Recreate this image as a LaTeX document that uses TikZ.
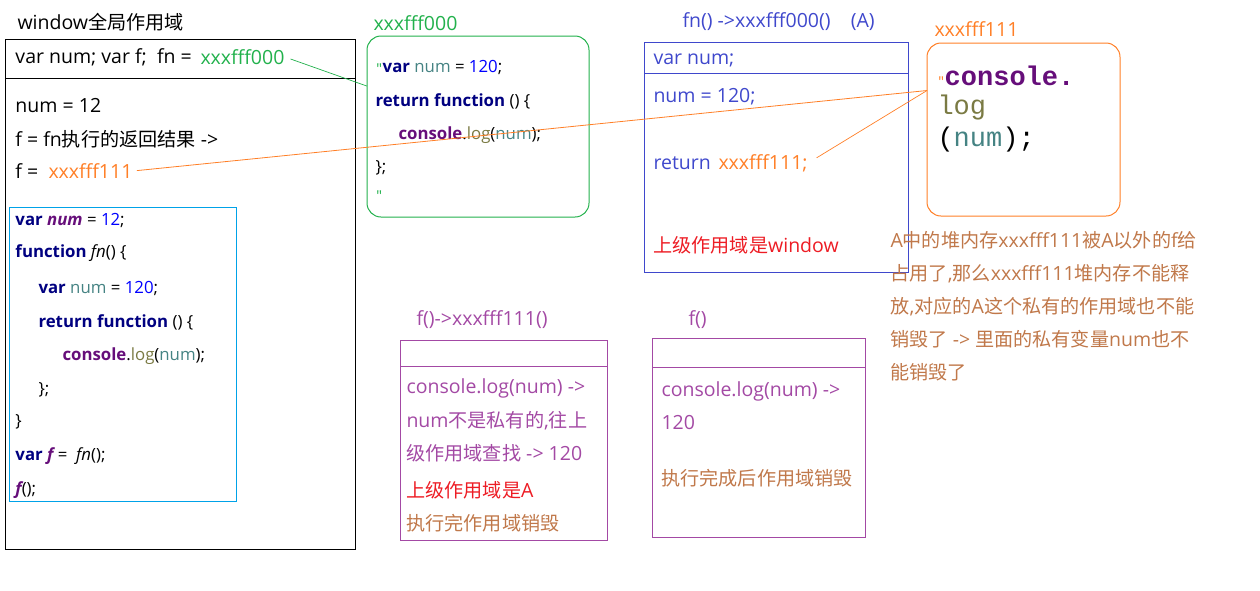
\documentclass[tikz,border=0pt]{standalone}
\usepackage{fontspec}
\setmainfont{Open Sans}
\newfontfamily\cjk{Noto Sans CJK SC}[Scale=0.98]
\newfontfamily\monofnt{Liberation Mono}
\definecolor{gline}{HTML}{22B14C}
\definecolor{oline}{HTML}{FF7F27}
\definecolor{bline}{HTML}{3F48CC}
\definecolor{pline}{HTML}{A349A4}
\definecolor{cline}{HTML}{00A2E8}
\definecolor{redt}{HTML}{ED1C24}
\definecolor{brownt}{HTML}{C0784A}
\definecolor{kw}{HTML}{000080}
\definecolor{pv}{HTML}{660E7A}
\definecolor{numc}{HTML}{0000FF}
\definecolor{lv}{HTML}{458383}
\definecolor{lg}{HTML}{7A7A43}
\newcommand{\kw}[1]{\textbf{\color{kw}#1}}
\newcommand{\zh}[1]{{\cjk #1}}
\newcommand{\qmark}{{\monofnt\fontsize{12}{12}\selectfont"}}
\begin{document}
\begin{tikzpicture}[x=1pt,y=-1pt,line width=1pt,
    txt/.style={anchor=west,inner sep=0pt,font=\fontsize{19.5}{22}\selectfont},
    code/.style={txt,font=\fontsize{16.8}{20}\selectfont},
    mono/.style={txt,font=\monofnt\fontsize{27}{30}\selectfont},
    frame/.style={draw,anchor=north west,inner sep=0pt,outer sep=0pt}]
    \useasboundingbox (0,0) rectangle (1260,590);
    % window scope
    \node[txt] (wtitle) at (17,22) {window\zh{全局作用域}};
    \node[frame,minimum width=350,minimum height=510] (wbox) at (5,39) {};
    \draw (5,78)--(355,78);
    \node[txt] (wvar) at (15,57) {var num; var f;\ \ fn =};
    \node[txt,text=gline] (wfn) at (200,57) {xxxfff000};
    \node[txt] (wnum) at (15,106) {num = 12};
    \node[txt] (wres) at (15,139) {f = fn\zh{执行的返回结果} ->};
    \node[txt] (wf) at (15,171) {f =};
    \node[txt,text=oline] (wfx) at (48,171) {xxxfff111};
    % source code
    \node[frame,draw=cline,minimum width=227,minimum height=294] (src) at (9,207) {};
    \node[code] (s1) at (15,220) {\kw{var} \textbf{\textit{\color{pv}num}} = {\color{numc}12};};
    \node[code] (s2) at (15,253) {\kw{function} \textit{fn}() \{};
    \node[code] (s3) at (38,288) {\kw{var} {\color{lv}num} = {\color{numc}120};};
    \node[code] (s4) at (38,322) {\kw{return function} () \{};
    \node[code] (s5) at (62,356) {\textbf{\color{pv}console}.{\color{lg}log}({\color{lv}num});};
    \node[code] (s6) at (38,390) {\};};
    \node[code] (s7) at (15,422) {\}};
    \node[code] (s8) at (15,456) {\kw{var} \textbf{\textit{\color{pv}f}} = \ \textit{fn}();};
    \node[code] (s9) at (15,490) {\textbf{\textit{\color{pv}f}}();};
    % heap xxxfff000
    \node[txt,text=gline] (gtitle) at (373,23) {xxxfff000};
    \node[frame,draw=gline,rounded corners=14,minimum width=222,minimum height=181] (gbox) at (367,36) {};
    \node[code] (g1) at (375,67) {{\color{gline}\qmark}\kw{var} {\color{lv}num} = {\color{numc}120};};
    \node[code] (g2) at (375,101) {\kw{return function} () \{};
    \node[code] (g3) at (398,135) {\textbf{\color{pv}console}.{\color{lg}log}({\color{lv}num});};
    \node[code] (g4) at (375,168) {\};};
    \node[code,text=gline] (g5) at (375,195) {\qmark};
    % private scope A
    \node[txt,text=bline] (btitle) at (682,22) {fn() ->xxxfff000()\ \ \ \ (A)};
    \node[frame,draw=bline,minimum width=264,minimum height=230] (bbox) at (644,42) {};
    \draw[bline] (644,73)--(908,73);
    \node[txt,text=bline] (b1) at (653,60) {var num;};
    \node[txt,text=bline] (b2) at (653,97) {num = 120;};
    \node[txt,text=bline] (b3) at (653,163) {return};
    \node[txt,text=oline] (bx) at (718,163) {xxxfff111;};
    \node[txt,text=redt] (b4) at (653,245) {\zh{上级作用域是}window};
    % heap xxxfff111
    \node[txt,text=oline] (otitle) at (934,29) {xxxfff111};
    \node[frame,draw=oline,rounded corners=14,minimum width=193,minimum height=173] (obox) at (927,43) {};
    \node[mono] (o1) at (937,76) {{\color{oline}\qmark}\textbf{\color{pv}console.}};
    \node[mono,text=lg] (o2) at (937,108) {log};
    \node[mono] (o3) at (937,140) {({\color{lv}num});};
    % note
    \node[txt,anchor=north west,text=brownt,align=left,font=\fontsize{19.5}{33}\selectfont] (note) at (890,231)
        {A\zh{中的堆内存}xxxfff111\zh{被}A\zh{以外的}f\zh{给}\\\zh{占用了},\zh{那么}xxxfff111\zh{堆内存不能释}\\\zh{放},\zh{对应的}A\zh{这个私有的作用域也不能}\\\zh{销毁了} -> \zh{里面的私有变量}num\zh{也不}\\\zh{能销毁了}};
    % f() -> xxxfff111()
    \node[txt,text=pline] (ptitle) at (416,320) {f()->xxxfff111()};
    \node[frame,draw=pline,minimum width=207,minimum height=200] (pbox) at (400,340) {};
    \draw[pline] (400,366)--(607,366);
    \node[txt,text=pline] (p1) at (406,388) {console.log(num) ->};
    \node[txt,text=pline] (p2) at (406,421) {num\zh{不是私有的},\zh{往上}};
    \node[txt,text=pline] (p3) at (406,453) {\zh{级作用域查找} -> 120};
    \node[txt,text=redt] (p4) at (406,490) {\zh{上级作用域是}A};
    \node[txt,text=brownt] (p5) at (406,523) {\zh{执行完作用域销毁}};
    % f()
    \node[txt,text=pline] (qtitle) at (688,320) {f()};
    \node[frame,draw=pline,minimum width=213,minimum height=199] (qbox) at (652,338) {};
    \draw[pline] (652,367)--(865,367);
    \node[txt,text=pline] (q1) at (661,391) {console.log(num) ->};
    \node[txt,text=pline] (q2) at (661,423) {120};
    \node[txt,text=brownt] (q3) at (661,478) {\zh{执行完成后作用域销毁}};
    % pointers
    \draw[gline,line width=0.7pt,shorten <=6pt] (wfn.east)--(gbox.160);
    \draw[oline,line width=0.8pt,shorten <=4pt] (wfx.east)--(obox.158);
    \draw[oline,line width=0.7pt,shorten <=10pt] (bx.east)--(obox.158);
\end{tikzpicture}
\end{document}
